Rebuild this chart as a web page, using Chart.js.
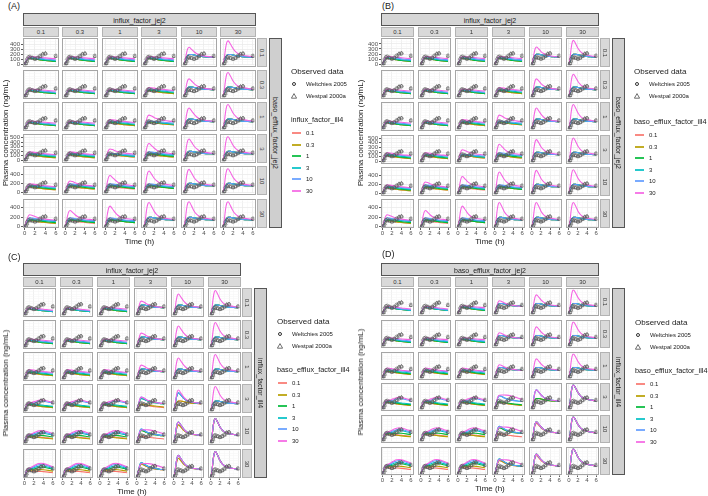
<!DOCTYPE html>
<html>
<head>
<meta charset="utf-8">
<script src="https://cdn.jsdelivr.net/npm/chart.js@4/dist/chart.umd.min.js"></script>
<style>
  body { margin: 0; background: #fff; }
  #fig { position: relative; width: 708px; height: 496px; overflow: hidden; font-family: "Liberation Sans", Arial, sans-serif; color: #1a1a1a; }
  #fig canvas { position: absolute; }
  .t { position: absolute; white-space: nowrap; line-height: 1; }
  .box { position: absolute; box-sizing: border-box; }
</style>
</head>
<body>
<div id="fig"></div>
<script>
// simulation time grid (h)
const times = [0, 0.25, 0.5, 0.75, 1, 1.5, 2, 2.5, 3, 3.5, 4, 5, 6];

// simulated concentration profiles read off the cells (ng/mL), one per letter
const curveA = [0, 45, 95, 118, 125, 115, 105, 95, 88, 80, 74, 64, 55];
const curveB = [0, 48, 100, 125, 133, 125, 117, 109, 101, 95, 89, 79, 70];
const curveC = [0, 50, 105, 132, 142, 137, 131, 124, 118, 112, 106, 96, 86];
const curveD = [0, 52, 110, 140, 152, 150, 147, 142, 137, 132, 127, 118, 110];
const curveE = [0, 60, 125, 165, 185, 180, 172, 163, 155, 148, 142, 132, 122];
const curveF = [0, 80, 170, 230, 250, 235, 212, 192, 177, 166, 158, 146, 136];
const curveG = [0, 90, 190, 260, 280, 260, 230, 205, 188, 175, 166, 152, 142];
const curveH = [0, 100, 230, 315, 340, 300, 250, 215, 192, 178, 168, 153, 143];
const curveI = [0, 105, 250, 345, 370, 325, 270, 228, 200, 184, 172, 156, 146];
const curveJ = [0, 120, 290, 400, 430, 370, 300, 245, 210, 190, 177, 160, 148];
const curveK = [0, 130, 320, 440, 470, 400, 315, 255, 217, 195, 181, 163, 150];
const curveL = [0, 140, 350, 475, 505, 425, 325, 260, 220, 198, 183, 165, 152];
const curveM = [0, 150, 370, 495, 520, 435, 330, 262, 222, 200, 185, 166, 153];
const curveN = [0, 60, 120, 145, 150, 150, 158, 172, 185, 192, 190, 172, 150];
const curveQ = [0, 62, 125, 150, 158, 165, 180, 198, 212, 220, 216, 192, 168];
const curveO = [0, 64, 130, 155, 165, 182, 203, 225, 242, 250, 245, 218, 188];
const curveP = [0, 66, 135, 160, 172, 195, 222, 248, 264, 270, 263, 235, 200];
const curveR = [0, 60, 130, 175, 195, 195, 185, 175, 165, 158, 152, 145, 140];
const curveS = [0, 55, 100, 115, 118, 112, 108, 108, 108, 106, 102, 92, 80];
const curveT = [0, 58, 110, 130, 135, 132, 133, 138, 142, 143, 140, 128, 112];
const curveU = [0, 90, 190, 245, 262, 265, 265, 263, 258, 250, 238, 208, 178];
const curves = { a: curveA, b: curveB, c: curveC, d: curveD, e: curveE, f: curveF, g: curveG,
  h: curveH, i: curveI, j: curveJ, k: curveK, l: curveL, m: curveM, n: curveN, q: curveQ,
  o: curveO, p: curveP, r: curveR, s: curveS, t: curveT, u: curveU };

// observed data
const weltchiesTime = [0.25, 0.5, 0.75, 1, 1.5, 2, 2.5, 3, 3.5, 4, 6];
const weltchiesConc = [20, 100, 140, 150, 130, 110, 130, 170, 195, 210, 170];
const westpalTime = [0, 0.25, 0.5, 1, 1.5, 2, 2.5, 3, 3.5, 4, 6];
const westpalConc = [0, 10, 60, 120, 120, 100, 120, 150, 210, 220, 155];

// facet levels and line colours
const levels = ['0.1', '0.3', '1', '3', '10', '30'];
const lineColors = ['#F8766D', '#B79F00', '#00BA38', '#00BFC4', '#619CFF', '#F564E3'];

// per panel: rows x columns, each string = profile letter for the 6 line levels
const panelA = [
  ['aaabcd', 'aaabcd', 'aaabcd', 'aaabcd', 'rrrrrh', 'rrrrrk'],
  ['aaabcd', 'aaabcd', 'aaabcd', 'aabcde', 'rrrrri', 'rrrrrl'],
  ['aaabcd', 'aaabcd', 'aabcde', 'bbccdg', 'rrrrrj', 'rrrrrl'],
  ['aabcde', 'aabcde', 'bbccdf', 'bbcdei', 'rrrrrk', 'rrrrrm'],
  ['aabcde', 'bbcdef', 'bccdei', 'cccdek', 'rrrrrl', 'rrrrrm'],
  ['bbcdef', 'bccdeh', 'cccdej', 'rrrrrl', 'rrrrrm', 'rrrrrm']
];
const panelB = [
  ['aaabcd', 'aaabcd', 'aaabcd', 'aaabcd', 'rrrrrh', 'rrrrrk'],
  ['aaabcd', 'aaabcd', 'aaabcd', 'aabcde', 'rrrrri', 'rrrrrk'],
  ['aaabcd', 'aaabcd', 'aabcde', 'bbccdg', 'rrrrrj', 'rrrrrl'],
  ['aabcde', 'aabcde', 'bbccdf', 'bbcdei', 'rrrrrk', 'rrrrrl'],
  ['aabcde', 'bbcdef', 'bccdei', 'cccdek', 'rrrrrl', 'rrrrrm'],
  ['bbcdef', 'bccdeh', 'cccdej', 'rrrrrl', 'rrrrrl', 'rrrrrl']
];
const panelC = [
  ['aaaabc', 'aaaabc', 'aaabcd', 'rrrrrg', 'rrrrrj', 'rrrrrl'],
  ['aaabcd', 'aaabcd', 'aaabcd', 'rrrrrg', 'rrrrrj', 'rrrrrl'],
  ['aabcde', 'aabcde', 'aabcde', 'rrrrrg', 'rrrrrj', 'rrrrrl'],
  ['aabcnq', 'aabcnq', 'aabcnq', 'abffgg', 'rriiij', 'rrrrrl'],
  ['sbtnqo', 'sbtnqo', 'sbtnqo', 'bffggu', 'iijjjj', 'llllll'],
  ['stnqop', 'stnqop', 'stnqop', 'ffgggu', 'iijjjj', 'llllll']
];
const panelD = [
  ['aaaabc', 'aaaabc', 'aaabcd', 'rrrrrf', 'rrrrri', 'rrrrrk'],
  ['aaabcd', 'aaabcd', 'aaabcd', 'rrrrrf', 'rrrrri', 'rrrrrk'],
  ['aabcde', 'aabcde', 'aabcde', 'rrrrrf', 'rrrrri', 'rrrrrk'],
  ['aabcnq', 'aabcnq', 'aabcnq', 'aabffu', 'rrriii', 'kkkkkk'],
  ['sbtnqo', 'sbtnqo', 'sbtnqo', 'bffggu', 'hiiiii', 'kkkkkk'],
  ['stnqop', 'stnqop', 'stnqop', 'ffgggu', 'hiiiii', 'kkkkkk']
];

// y axis upper limit and label step per facet row
const yMaxA = [495, 525, 525, 545, 545, 545];
const yStepA = [100, 100, 100, 100, 200, 200];
const yMaxB = [485, 525, 525, 535, 545, 545];
const yStepB = [100, 100, 100, 100, 200, 200];
const yMaxC = [525, 525, 525, 525, 525, 525];
const yStepC = [100, 100, 100, 100, 100, 100];
const yMaxD = [475, 475, 475, 475, 475, 475];
const yStepD = [100, 100, 100, 100, 100, 100];

const panels = [
  { tag: '(A)', tagX: 8, tagY: 6, left: 23, top: 38, cw: 35.6, cg: 3.8, rh: 28.5, rg: 3.6,
    colTitle: 'influx_factor_jej2', rowTitle: 'baso_efflux_factor_jej2', legTitle: 'influx_factor_ill4',
    legX: 291, legY: 72, legY2: 120, ytitleX: 6, grid: panelA, yMax: yMaxA, yStep: yStepA },
  { tag: '(B)', tagX: 382, tagY: 6, left: 381, top: 38, cw: 33.4, cg: 3.5, rh: 28.8, rg: 3.4,
    colTitle: 'influx_factor_jej2', rowTitle: 'baso_efflux_factor_jej2', legTitle: 'baso_efflux_factor_ill4',
    legX: 634, legY: 72, legY2: 122, ytitleX: 361, grid: panelB, yMax: yMaxB, yStep: yStepB },
  { tag: '(C)', tagX: 8, tagY: 257, left: 23, top: 288, cw: 33.4, cg: 3.5, rh: 28.5, rg: 3.6,
    colTitle: 'influx_factor_jej2', rowTitle: 'influx_factor_ill4', legTitle: 'baso_efflux_factor_ill4',
    legX: 277, legY: 322, legY2: 370, ytitleX: 6, grid: panelC, yMax: yMaxC, yStep: yStepC },
  { tag: '(D)', tagX: 382, tagY: 254, left: 381, top: 288, cw: 33.4, cg: 3.5, rh: 28.2, rg: 3.6,
    colTitle: 'baso_efflux_factor_jej2', rowTitle: 'influx_factor_ill4', legTitle: 'baso_efflux_factor_ill4',
    legX: 635, legY: 323, legY2: 371, ytitleX: 361, grid: panelD, yMax: yMaxD, yStep: yStepD }
];

const fig = document.getElementById('fig');

function addText(txt, x, y, size, extra) {
  const d = document.createElement('div');
  d.className = 't';
  d.textContent = txt;
  d.style.left = x + 'px';
  d.style.top = y + 'px';
  d.style.fontSize = size + 'px';
  d.style.transform = 'translate(0,-50%)';
  Object.assign(d.style, extra || {});
  fig.appendChild(d);
  return d;
}

function addBox(x, y, w, h, bg, border) {
  const d = document.createElement('div');
  d.className = 'box';
  d.style.left = x + 'px';
  d.style.top = y + 'px';
  d.style.width = w + 'px';
  d.style.height = h + 'px';
  d.style.background = bg;
  d.style.border = border;
  fig.appendChild(d);
  return d;
}

function makeCell(x, y, w, h, profiles, yMax, yStep, showY, showX) {
  const pad = 3;
  const labW = showY ? 17 : 0;
  const labH = showX ? 8 : 0;
  const canvas = document.createElement('canvas');
  canvas.width = w + 2 * pad + labW;
  canvas.height = h + 2 * pad + labH;
  canvas.style.left = (x - pad - labW) + 'px';
  canvas.style.top = (y - pad) + 'px';
  fig.appendChild(canvas);

  const datasets = profiles.split('').map((key, i) => ({
    data: times.map((t, k) => ({ x: t, y: curves[key][k] })),
    borderColor: lineColors[i],
    borderWidth: 1.1,
    pointRadius: 0,
    cubicInterpolationMode: 'monotone',
    fill: false,
    order: 10 - i
  }));
  datasets.push({
    data: weltchiesTime.map((t, k) => ({ x: t, y: weltchiesConc[k] })),
    showLine: false, pointStyle: 'circle', pointRadius: 1.7, pointBorderWidth: 0.6,
    pointBorderColor: '#5a5a5a', pointBackgroundColor: 'rgba(0,0,0,0)', order: 1
  });
  datasets.push({
    data: westpalTime.map((t, k) => ({ x: t, y: westpalConc[k] })),
    showLine: false, pointStyle: 'triangle', pointRadius: 1.9, pointBorderWidth: 0.6,
    pointBorderColor: '#5a5a5a', pointBackgroundColor: 'rgba(0,0,0,0)', order: 0
  });

  new Chart(canvas, {
    type: 'line',
    data: { datasets },
    options: {
      responsive: false,
      animation: false,
      events: [],
      layout: { padding: pad },
      plugins: { legend: { display: false }, tooltip: { enabled: false } },
      scales: {
        x: {
          type: 'linear', min: -0.3, max: 6.3,
          border: { display: false },
          grid: {
            drawTicks: showX, tickLength: 2,
            color: c => (c.tick.value % 2 === 0 ? '#EBEBEB' : '#F5F5F5'),
            tickColor: c => (c.tick.value % 2 === 0 ? '#333' : 'rgba(0,0,0,0)'),
            lineWidth: c => (c.tick.value % 2 === 0 ? 0.8 : 0.5)
          },
          ticks: {
            display: showX, stepSize: 1, includeBounds: false, autoSkip: false, maxRotation: 0,
            padding: 0, color: '#4D4D4D', font: { size: 6, family: 'Liberation Sans' },
            callback: v => (v % 2 === 0 ? v : '')
          },
          afterFit(s) { s.height = labH; s.paddingLeft = 0; s.paddingRight = 0; }
        },
        y: {
          type: 'linear', min: -yMax * 0.048, max: yMax,
          border: { display: false },
          grid: {
            drawTicks: showY, tickLength: 2,
            color: c => (c.tick.value % yStep === 0 ? '#EBEBEB' : '#F5F5F5'),
            tickColor: c => (c.tick.value % yStep === 0 ? '#333' : 'rgba(0,0,0,0)'),
            lineWidth: c => (c.tick.value % yStep === 0 ? 0.8 : 0.5)
          },
          ticks: {
            display: showY, stepSize: yStep / 2, includeBounds: false, autoSkip: false,
            padding: 1, color: '#4D4D4D', font: { size: 6, family: 'Liberation Sans' },
            callback: v => (v % yStep === 0 ? v : '')
          },
          afterFit(s) { s.width = labW; s.paddingTop = 0; s.paddingBottom = 0; }
        }
      }
    }
  });
  addBox(x, y, w, h, 'transparent', '1px solid #A6A6A6');
}

function buildPanel(p) {
  const colX = c => Math.round(p.left + c * (p.cw + p.cg));
  const rowY = r => Math.round(p.top + r * (p.rh + p.rg));
  const cw = Math.round(p.cw), rh = Math.round(p.rh);
  const right = colX(5) + cw;
  const bottom = rowY(5) + rh;

  addText(p.tag, p.tagX, p.tagY, 9);

  // top strips
  addBox(colX(0), p.top - 25, right - colX(0), 13, '#D6D6D6', '1px solid #555');
  addText(p.colTitle, (colX(0) + right) / 2, p.top - 18.5, 7, { transform: 'translate(-50%,-50%)' });
  levels.forEach((lv, c) => {
    addBox(colX(c), p.top - 11, cw, 10, '#D9D9D9', '1px solid #B3B3B3');
    addText(lv, colX(c) + cw / 2, p.top - 6, 6, { transform: 'translate(-50%,-50%)', color: '#333' });
  });
  // right strips
  levels.forEach((lv, r) => {
    addBox(right + 1, rowY(r), 10, rh, '#D9D9D9', '1px solid #B3B3B3');
    addText(lv, right + 6, rowY(r) + rh / 2, 6,
      { writingMode: 'vertical-rl', transform: 'translate(-50%,-50%)', color: '#333' });
  });
  addBox(right + 13, p.top, 13, bottom - p.top, '#CFCFCF', '1px solid #555');
  addText(p.rowTitle, right + 19.5, (p.top + bottom) / 2, 7,
    { writingMode: 'vertical-rl', transform: 'translate(-50%,-50%)' });

  // cells
  for (let r = 0; r < 6; r++) {
    for (let c = 0; c < 6; c++) {
      makeCell(colX(c), rowY(r), cw, rh, p.grid[r][c], p.yMax[r], p.yStep[r], c === 0, r === 5);
    }
  }

  // axis titles
  addText('Time (h)', (colX(0) + right) / 2, bottom + 14, 8, { transform: 'translate(-50%,-50%)' });
  addText('Plasma concentration (ng/mL)', p.ytitleX, (p.top + bottom) / 2, 8,
    { transform: 'translate(-50%,-50%) rotate(-90deg)', left: (p.ytitleX) + 'px' });

  // legend: observed data
  addText('Observed data', p.legX, p.legY, 8);
  const circ = addBox(p.legX + 1, p.legY + 10, 4, 4, 'transparent', '0.7px solid #333');
  circ.style.borderRadius = '50%';
  addText('Weltchies 2005', p.legX + 15, p.legY + 12, 6);
  const tri = document.createElementNS('http://www.w3.org/2000/svg', 'svg');
  tri.setAttribute('width', 6); tri.setAttribute('height', 6);
  tri.style.position = 'absolute';
  tri.style.left = (p.legX) + 'px';
  tri.style.top = (p.legY + 21) + 'px';
  tri.innerHTML = '<polygon points="3,0.6 5.6,5.2 0.4,5.2" fill="none" stroke="#333" stroke-width="0.7"/>';
  fig.appendChild(tri);
  addText('Westpal 2000a', p.legX + 15, p.legY + 24, 6);

  // legend: simulated lines
  addText(p.legTitle, p.legX, p.legY2, 7.3);
  levels.forEach((lv, i) => {
    const yy = Math.round(p.legY2 + 13 + i * 11.5);
    const key = addBox(p.legX + 1, yy - 1, 9, 2, lineColors[i], 'none');
    key.style.opacity = '0.85';
    addText(lv, p.legX + 15, yy, 6);
  });
}

panels.forEach(buildPanel);
</script>
</body>
</html>
